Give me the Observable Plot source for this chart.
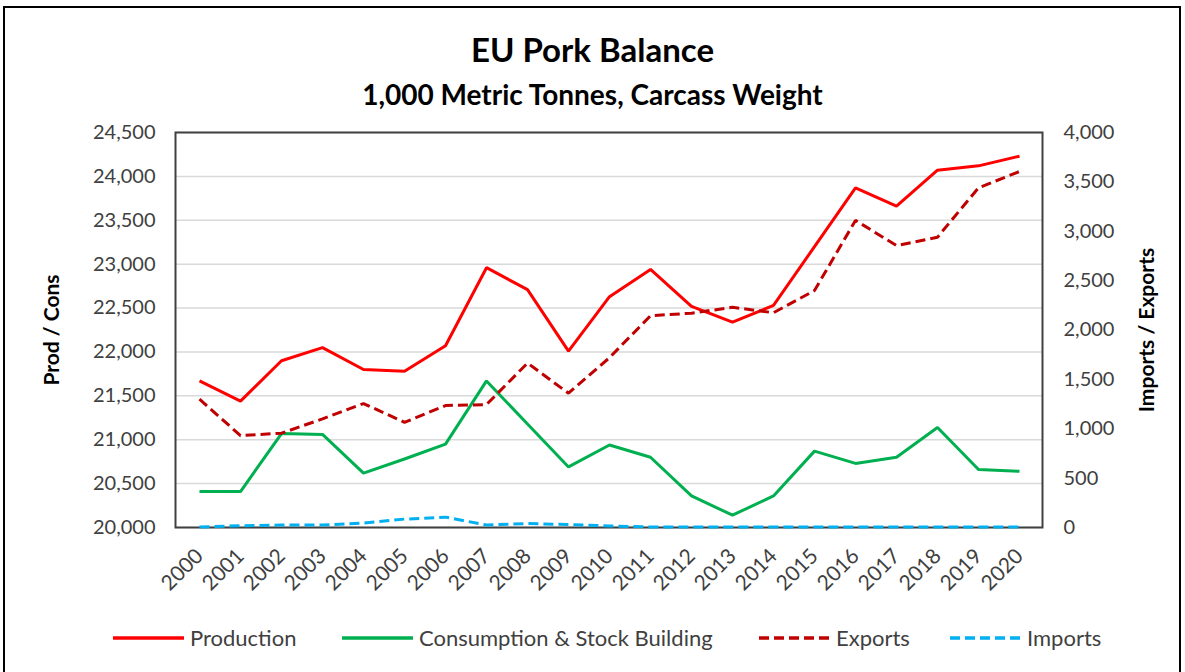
<!DOCTYPE html>
<html>
<head>
<meta charset="utf-8">
<script src="https://cdn.jsdelivr.net/npm/d3@7"></script>
<script src="https://cdn.jsdelivr.net/npm/@observablehq/plot@0.6"></script>
<style>
  body { margin: 0; background: #fff; font-family: Lato, "Open Sans", sans-serif; }
  #wrap { position: relative; width: 1185px; height: 672px; overflow: hidden; background: #fff; }
  #border { position: absolute; left: 3px; top: 6px; width: 1178px; height: 720px; border: 2px solid #000; box-sizing: border-box; z-index: 10; pointer-events: none; background: transparent; }
  #title { position: absolute; left: 0; width: 1185px; top: 29px; text-align: center; font-weight: bold; font-size: 33px; color: #000; }
  #subtitle { position: absolute; left: 0; width: 1185px; top: 77px; text-align: center; font-weight: bold; font-size: 28px; color: #000; }
  #chart { position: absolute; left: 0; top: 110px; }
  .leg { position: absolute; top: 624px; display: flex; align-items: center; font-size: 22px; color: #404040; white-space: nowrap; }
  .leg svg { margin-right: 6px; }
</style>
</head>
<body>
<div id="wrap">
  <div id="title">EU Pork Balance</div>
  <div id="subtitle">1,000 Metric Tonnes, Carcass Weight</div>
  <div id="chart"></div>
  <div id="legend"></div>
  <div id="border"></div>
</div>
<script>
// ---- data ----
const years = [2000, 2001, 2002, 2003, 2004, 2005, 2006, 2007, 2008, 2009, 2010,
               2011, 2012, 2013, 2014, 2015, 2016, 2017, 2018, 2019, 2020];
const production = [21670, 21440, 21900, 22050, 21800, 21780, 22070, 22960, 22710, 22010, 22630,
                    22940, 22520, 22340, 22530, 23200, 23870, 23660, 24070, 24120, 24230];
const consumption = [20410, 20410, 21070, 21060, 20620, 20780, 20950, 21670, 21180, 20690, 20940,
                     20800, 20360, 20140, 20360, 20870, 20730, 20800, 21140, 20660, 20640];
const exportsV = [1300, 930, 955, 1100, 1255, 1065, 1235, 1245, 1665, 1360, 1720,
                  2145, 2170, 2230, 2175, 2400, 3110, 2855, 2940, 3440, 3605];
const importsV = [5, 18, 25, 25, 45, 85, 105, 25, 40, 30, 15,
                  5, 5, 5, 5, 5, 5, 5, 5, 5, 5];
const leftTicks = [20000, 20500, 21000, 21500, 22000, 22500, 23000, 23500, 24000, 24500];
const rightTicks = [0, 500, 1000, 1500, 2000, 2500, 3000, 3500, 4000];
const seriesNames = ["Production", "Consumption & Stock Building", "Exports", "Imports"];

// ---- styling ----
const styles = [
  {color: "#ff0000", dash: null, axis: "left"},
  {color: "#00b050", dash: null, axis: "left"},
  {color: "#c00000", dash: "10,5", axis: "right"},
  {color: "#00b0f0", dash: "10,5", axis: "right"}
];
const leftDomain = [20000, 24500];
const rightDomain = [0, 4000];
const k = (leftDomain[1] - leftDomain[0]) / (rightDomain[1] - rightDomain[0]);
const toLeft = v => leftDomain[0] + (v - rightDomain[0]) * k;
const fromLeft = v => Math.round((v - leftDomain[0]) / k + rightDomain[0]);

const seriesValues = [production, consumption, exportsV, importsV];
const lines = seriesValues.map((vals, s) => {
  const st = styles[s];
  const data = years.map((y, i) => ({year: y, value: st.axis === "right" ? toLeft(vals[i]) : vals[i]}));
  return Plot.lineY(data, {
    x: "year", y: "value", stroke: st.color, strokeWidth: 3,
    strokeDasharray: st.dash ?? undefined, strokeLinejoin: "miter", strokeLinecap: "butt"
  });
});

const fmt = d3.format(",");
const chart = Plot.plot({
  width: 1185,
  height: 490,
  marginTop: 22,
  marginBottom: 73,
  marginLeft: 175,
  marginRight: 143,
  x: {type: "point", domain: years, padding: 0.5},
  y: {domain: leftDomain},
  style: {fontFamily: "Lato, 'Open Sans', sans-serif", fontSize: "20px", color: "#404040", background: "transparent", overflow: "visible"},
  marks: [
    Plot.gridY(leftTicks, {stroke: "#d9d9d9", strokeOpacity: 1, strokeWidth: 1.5}),
    Plot.frame({stroke: "#404040", strokeWidth: 2}),
    Plot.axisY(leftTicks, {anchor: "left", tickSize: 0, tickPadding: 20, tickFormat: fmt, label: null}),
    Plot.axisY(rightTicks.map(toLeft), {anchor: "right", tickSize: 0, tickPadding: 21, tickFormat: d => fmt(fromLeft(d)), label: null}),
    Plot.axisX({tickRotate: -45, tickSize: 0, tickPadding: 25, fontSize: 21, tickFormat: d => String(d), label: null}),
    Plot.text(["Prod / Cons"], {frameAnchor: "left", dx: -123, rotate: -90, textAnchor: "middle", fontWeight: "bold", fontSize: 21, fill: "#000"}),
    Plot.text(["Imports / Exports"], {frameAnchor: "right", dx: 105, rotate: -90, textAnchor: "middle", fontWeight: "bold", fontSize: 21, fill: "#000"}),
    ...lines
  ]
});
document.getElementById("chart").appendChild(chart);

// ---- legend ----
const legendLeft = [113, 342, 759, 950];
const legend = document.getElementById("legend");
seriesNames.forEach((name, s) => {
  const st = styles[s];
  const item = document.createElement("div");
  item.className = "leg";
  item.style.left = legendLeft[s] + "px";
  item.innerHTML = `<svg width="71" height="10"><line x1="0" x2="71" y1="5" y2="5" stroke="${st.color}" stroke-width="3.5" ${st.dash ? `stroke-dasharray="${st.dash}"` : ""}/></svg><span>${name}</span>`;
  legend.appendChild(item);
});
</script>
</body>
</html>
